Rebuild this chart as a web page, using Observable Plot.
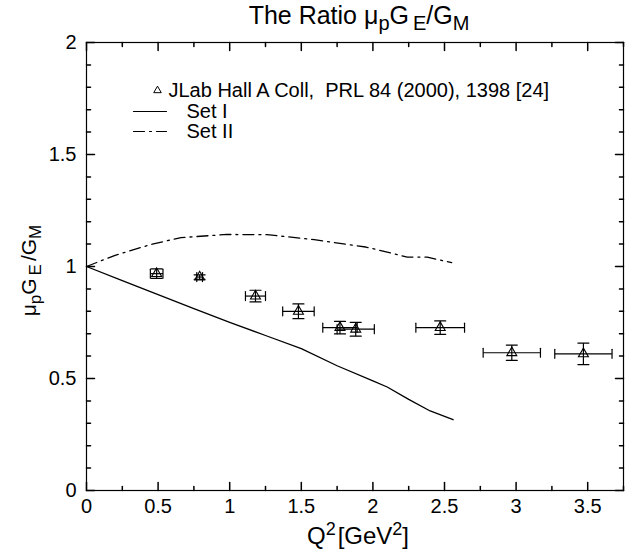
<!DOCTYPE html>
<html><head><meta charset="utf-8">
<script src="https://cdn.jsdelivr.net/npm/d3@7"></script>
<script src="https://cdn.jsdelivr.net/npm/@observablehq/plot@0.6"></script>
<style>
body{margin:0;background:#fff}
svg{font-family:"Liberation Sans",Arial,Helvetica,sans-serif}
</style>
</head><body><div id="chart"></div>
<script>
// Experimental data: JLab Hall A
const expQ2 = [0.49, 0.79, 1.18, 1.48, 1.77, 1.88, 2.47, 2.97, 3.47];
const expRatio = [0.968, 0.953, 0.868, 0.800, 0.727, 0.720, 0.727, 0.615, 0.610];
const expQ2Err = [0.044, 0.02, 0.07, 0.11, 0.12, 0.13, 0.17, 0.20, 0.20];
const expRatioErr = [0.021, 0.010, 0.026, 0.033, 0.028, 0.031, 0.030, 0.034, 0.048];
// Set I (solid)
const set1Q2 = [0, 0.25, 0.5, 0.75, 1.0, 1.25, 1.5, 1.75, 2.0, 2.1, 2.25, 2.4, 2.56];
const set1Ratio = [1.0, 0.937, 0.874, 0.812, 0.751, 0.692, 0.633, 0.557, 0.489, 0.462, 0.407, 0.355, 0.316];
// Set II (dash-dot)
const set2Q2 = [0, 0.2, 0.46, 0.66, 0.98, 1.26, 1.59, 1.95, 2.1, 2.24, 2.38, 2.55];
const set2Ratio = [1.0, 1.05, 1.10, 1.129, 1.143, 1.142, 1.12, 1.087, 1.064, 1.042, 1.042, 1.017];
// Ticks
const xTickValues = [0, 0.5, 1, 1.5, 2, 2.5, 3, 3.5];
const xTickLabels = ["0", "0.5", "1", "1.5", "2", "2.5", "3", "3.5"];
const xMinorTicks = [0.25, 0.75, 1.25, 1.75, 2.25, 2.75, 3.25, 3.75];
const yTickValues = [0, 0.5, 1, 1.5, 2];
const yTickLabels = ["0", "0.5", "1", "1.5", "2"];
const yMinorTicks = [0.1,0.2,0.3,0.4,0.6,0.7,0.8,0.9,1.1,1.2,1.3,1.4,1.6,1.7,1.8,1.9];
const legendLabels = ["JLab Hall A Coll,  PRL 84 (2000), 1398 [24]", "Set I", "Set II"];

const exp = expQ2.map((q, i) => ({q, r: expRatio[i], eq: expQ2Err[i], er: expRatioErr[i]}));
const set1 = set1Q2.map((q, i) => ({q, r: set1Ratio[i]}));
const set2 = set2Q2.map((q, i) => ({q, r: set2Ratio[i]}));

const line = {draw(ctx, l) { ctx.moveTo(0, 0); ctx.lineTo(0, -l); }};
const XMAX = 3.75, YMAX = 2;
const dash = "11,5,2,5";
const FS = 20;

function ticks(vals, axis, len) {
  if (axis === "x") return [
    Plot.vector(vals, {x: d => d, y: () => 0, length: len, rotate: 0, anchor: "start", shape: line, stroke: "black"}),
    Plot.vector(vals, {x: d => d, y: () => YMAX, length: len, rotate: 180, anchor: "start", shape: line, stroke: "black"})
  ];
  return [
    Plot.vector(vals, {x: () => 0, y: d => d, length: len, rotate: 90, anchor: "start", shape: line, stroke: "black"}),
    Plot.vector(vals, {x: () => XMAX, y: d => d, length: len, rotate: -90, anchor: "start", shape: line, stroke: "black"})
  ];
}

const txt = {fill: "black", lineAnchor: "middle"};

const chart = Plot.plot({
  width: 635, height: 558,
  marginLeft: 86, marginRight: 12, marginTop: 42, marginBottom: 68,
  x: {domain: [0, XMAX], axis: null},
  y: {domain: [0, YMAX], axis: null},
  style: {fontFamily: '"Liberation Sans", Arial, sans-serif', background: "white"},
  marks: [
    Plot.frame({stroke: "black", strokeWidth: 1.2}),
    ...ticks(xTickValues, "x", 8),
    ...ticks(xMinorTicks, "x", 4),
    ...ticks(yTickValues, "y", 8),
    ...ticks(yMinorTicks, "y", 4),
    Plot.text(xTickValues, {x: d => d, y: () => 0, text: (d, i) => xTickLabels[i], dy: 16, fontSize: FS, ...txt}),
    Plot.text(yTickValues, {x: () => 0, y: d => d, text: (d, i) => yTickLabels[i], dx: -10, textAnchor: "end", fontSize: FS, ...txt}),
    // curves
    Plot.line(set1, {x: "q", y: "r", stroke: "black", strokeWidth: 1.3}),
    Plot.line(set2, {x: "q", y: "r", stroke: "black", strokeWidth: 1.3, strokeDasharray: dash}),
    // error bars
    Plot.link(exp, {x1: d => d.q - d.eq, x2: d => d.q + d.eq, y1: "r", y2: "r", stroke: "black", strokeWidth: 1.2}),
    Plot.link(exp, {x1: "q", x2: "q", y1: d => d.r - d.er, y2: d => d.r + d.er, stroke: "black", strokeWidth: 1.2}),
    Plot.vector(exp, {x: d => d.q - d.eq, y: "r", length: 9, rotate: 0, anchor: "middle", shape: line, stroke: "black", strokeWidth: 1.2}),
    Plot.vector(exp, {x: d => d.q + d.eq, y: "r", length: 9, rotate: 0, anchor: "middle", shape: line, stroke: "black", strokeWidth: 1.2}),
    Plot.vector(exp, {x: "q", y: d => d.r - d.er, length: 11, rotate: 90, anchor: "middle", shape: line, stroke: "black", strokeWidth: 1.2}),
    Plot.vector(exp, {x: "q", y: d => d.r + d.er, length: 11, rotate: 90, anchor: "middle", shape: line, stroke: "black", strokeWidth: 1.2}),
    Plot.dot(exp, {x: "q", y: "r", symbol: "triangle", r: 3.7, stroke: "black", fill: "none", strokeWidth: 1.1}),
    // legend
    Plot.dot([0], {frameAnchor: "top-left", dx: 71, dy: 48, symbol: "triangle", r: 2.8, stroke: "black", fill: "none", strokeWidth: 1}),
    Plot.text([legendLabels[0]], {frameAnchor: "top-left", dx: 82, dy: 48, text: d => d, textAnchor: "start", fontSize: FS, ...txt}),
    Plot.vector([0], {frameAnchor: "top-left", dx: 47, dy: 69, length: 33, rotate: 90, anchor: "start", shape: line, stroke: "black", strokeWidth: 1.2}),
    Plot.text([legendLabels[1]], {frameAnchor: "top-left", dx: 100, dy: 69, text: d => d, textAnchor: "start", fontSize: FS, ...txt}),
    Plot.vector([0], {frameAnchor: "top-left", dx: 47, dy: 89, length: 33, rotate: 90, anchor: "start", shape: line, stroke: "black", strokeWidth: 1.2, strokeDasharray: dash}),
    Plot.text([legendLabels[2]], {frameAnchor: "top-left", dx: 100, dy: 89, text: d => d, textAnchor: "start", fontSize: FS, ...txt}),
    // title and axis labels
    Plot.text(["The Ratio μpGE/GM"], {frameAnchor: "top", dx: 4, dy: -27, text: d => d, textAnchor: "middle", fontSize: 25, className: "ttl", ...txt}),
    Plot.text(["Q2[GeV2]"], {frameAnchor: "bottom", dx: 3, dy: 46, text: d => d, textAnchor: "middle", fontSize: 24, className: "xlab", ...txt}),
    Plot.text(["μpGE/GM"], {frameAnchor: "left", dx: -57, dy: 4, rotate: -90, text: d => d, textAnchor: "middle", fontSize: 21, className: "ylab", ...txt})
  ]
});

const svg = d3.select(chart);
svg.select("g.ttl text").html(`The Ratio μ<tspan dy="6" font-size="20">p</tspan><tspan dy="-6">G</tspan><tspan dx="4" dy="6" font-size="20">E</tspan><tspan dy="-6">/G</tspan><tspan dy="6" font-size="20">M</tspan>`);
svg.select("g.ylab text").html(`μ<tspan dy="5" font-size="17">p</tspan><tspan dy="-5">G</tspan><tspan dx="3" dy="5" font-size="17">E</tspan><tspan dy="-5" dx="3">/G</tspan><tspan dy="5" font-size="17">M</tspan>`);
svg.select("g.xlab text").html(`Q<tspan dy="-9" font-size="18">2</tspan><tspan dy="9" dx="2">[GeV</tspan><tspan dy="-9" font-size="18">2</tspan><tspan dy="9">]</tspan>`);
document.getElementById("chart").appendChild(chart);
</script>
</body></html>
